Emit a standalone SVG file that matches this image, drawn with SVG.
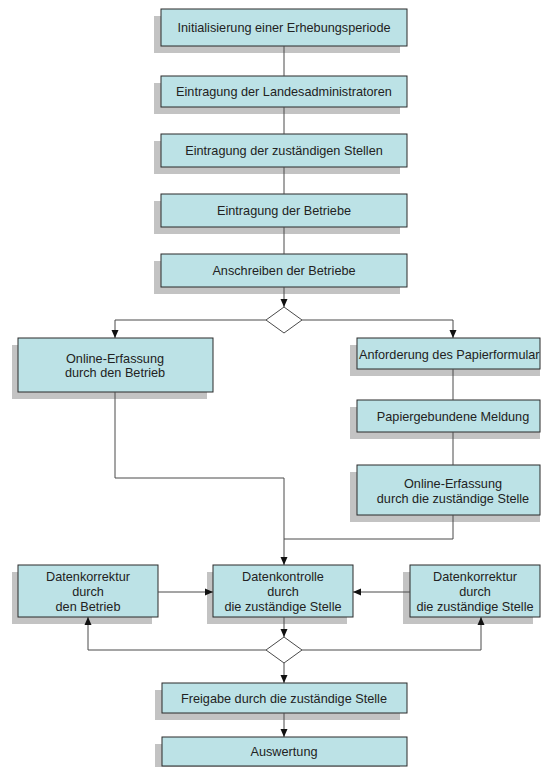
<svg xmlns="http://www.w3.org/2000/svg" width="541" height="767" viewBox="0 0 541 767">
<style>
.sh{fill:#c3c3c3}
.bx{fill:#bce2e6;stroke:#2b2b2b;stroke-width:1}
.t{font-family:"Liberation Sans",Arial,sans-serif;font-size:12.7px;fill:#222;text-anchor:middle}
.ln{fill:none;stroke:#4a4a4a;stroke-width:1}
.ar{fill:none;stroke:#4a4a4a;stroke-width:1;marker-end:url(#ah)}
.dm{fill:#fff;stroke:#4a4a4a;stroke-width:1}
</style>
<defs>
<marker id="ah" markerUnits="userSpaceOnUse" markerWidth="8" markerHeight="8" viewBox="0 0 8 8" refX="8" refY="4" orient="auto">
<path d="M0,0.5 L8,4 L0,7.5 Z" fill="#111"/>
</marker>
</defs>
<rect width="541" height="767" fill="#fff"/>

<g id="n1"><rect class="sh" x="154" y="16" width="246" height="37"/><rect class="bx" x="161" y="9" width="246" height="37"/><text class="t" x="284" y="32">Initialisierung einer Erhebungsperiode</text></g>
<g id="n2"><rect class="sh" x="154" y="83" width="246" height="31"/><rect class="bx" x="161" y="76" width="246" height="31"/><text class="t" x="284" y="96">Eintragung der Landesadministratoren</text></g>
<g id="n3"><rect class="sh" x="154" y="141" width="246" height="33"/><rect class="bx" x="161" y="134" width="246" height="33"/><text class="t" x="284" y="155">Eintragung der zuständigen Stellen</text></g>
<g id="n4"><rect class="sh" x="154" y="201" width="246" height="33"/><rect class="bx" x="161" y="194" width="246" height="33"/><text class="t" x="284" y="215">Eintragung der Betriebe</text></g>
<g id="n5"><rect class="sh" x="154" y="261" width="246" height="33"/><rect class="bx" x="161" y="254" width="246" height="33"/><text class="t" x="284" y="275">Anschreiben der Betriebe</text></g>
<g id="n6"><rect class="sh" x="12" y="345" width="195" height="54"/><rect class="bx" x="18" y="338" width="195" height="54"/><text class="t" x="115" y="363">Online-Erfassung</text><text class="t" x="115" y="377">durch den Betrieb</text></g>
<g id="n7"><rect class="sh" x="350" y="345" width="190" height="31"/><rect class="bx" x="357" y="338" width="183" height="31"/><text class="t" x="359" y="359" style="text-anchor:start">Anforderung des Papierformular</text></g>
<g id="n8"><rect class="sh" x="350" y="407" width="190" height="32"/><rect class="bx" x="357" y="400" width="183" height="32"/><text class="t" x="453" y="421">Papiergebundene Meldung</text></g>
<g id="n9"><rect class="sh" x="350" y="472" width="190" height="50"/><rect class="bx" x="357" y="465" width="183" height="50"/><text class="t" x="453" y="488">Online-Erfassung</text><text class="t" x="453" y="503">durch die zuständige Stelle</text></g>
<g id="n10"><rect class="sh" x="12" y="572" width="140" height="52"/><rect class="bx" x="18" y="565" width="140" height="52"/><text class="t" x="88" y="581">Datenkorrektur</text><text class="t" x="88" y="596">durch</text><text class="t" x="88" y="611">den Betrieb</text></g>
<g id="n11"><rect class="sh" x="207" y="572" width="140" height="52"/><rect class="bx" x="213" y="565" width="140" height="52"/><text class="t" x="283" y="581">Datenkontrolle</text><text class="t" x="283" y="596">durch</text><text class="t" x="283" y="611">die zuständige Stelle</text></g>
<g id="n12"><rect class="sh" x="403" y="572" width="130" height="52"/><rect class="bx" x="410" y="565" width="130" height="52"/><text class="t" x="475" y="581">Datenkorrektur</text><text class="t" x="475" y="596">durch</text><text class="t" x="475" y="611">die zuständige Stelle</text></g>
<g id="n13"><rect class="sh" x="155" y="690" width="245" height="30"/><rect class="bx" x="162" y="683" width="245" height="30"/><text class="t" x="284" y="703">Freigabe durch die zuständige Stelle</text></g>
<g id="n14"><rect class="sh" x="155" y="744" width="245" height="29"/><rect class="bx" x="162" y="737" width="245" height="29"/><text class="t" x="284" y="756">Auswertung</text></g>

<g id="connectors">
<path class="ln" d="M284,46 V76 M284,107 V134 M284,167 V194 M284,227 V254"/>
<path class="ar" d="M284,287 V307"/>
<path class="ar" d="M266,320 H115 V338"/>
<path class="ar" d="M302,320 H453 V338"/>
<path class="ln" d="M453,369 V400 M453,432 V465"/>
<path class="ar" d="M115,392 V478 H284 V565"/>
<path class="ln" d="M453,515 V539 H284"/>
<path class="ar" d="M158,592 H213"/>
<path class="ar" d="M410,592 H353"/>
<path class="ar" d="M284,617 V637"/>
<path class="ar" d="M266,650 H88 V617"/>
<path class="ar" d="M302,650 H481 V617"/>
<path class="ar" d="M284,663 V683"/>
<path class="ar" d="M284,713 V737"/>
</g>

<g id="d1"><path class="dm" d="M284,307 L302,320 L284,333 L266,320 Z"/></g>
<g id="d2"><path class="dm" d="M284,637 L302,650 L284,663 L266,650 Z"/></g>
</svg>
